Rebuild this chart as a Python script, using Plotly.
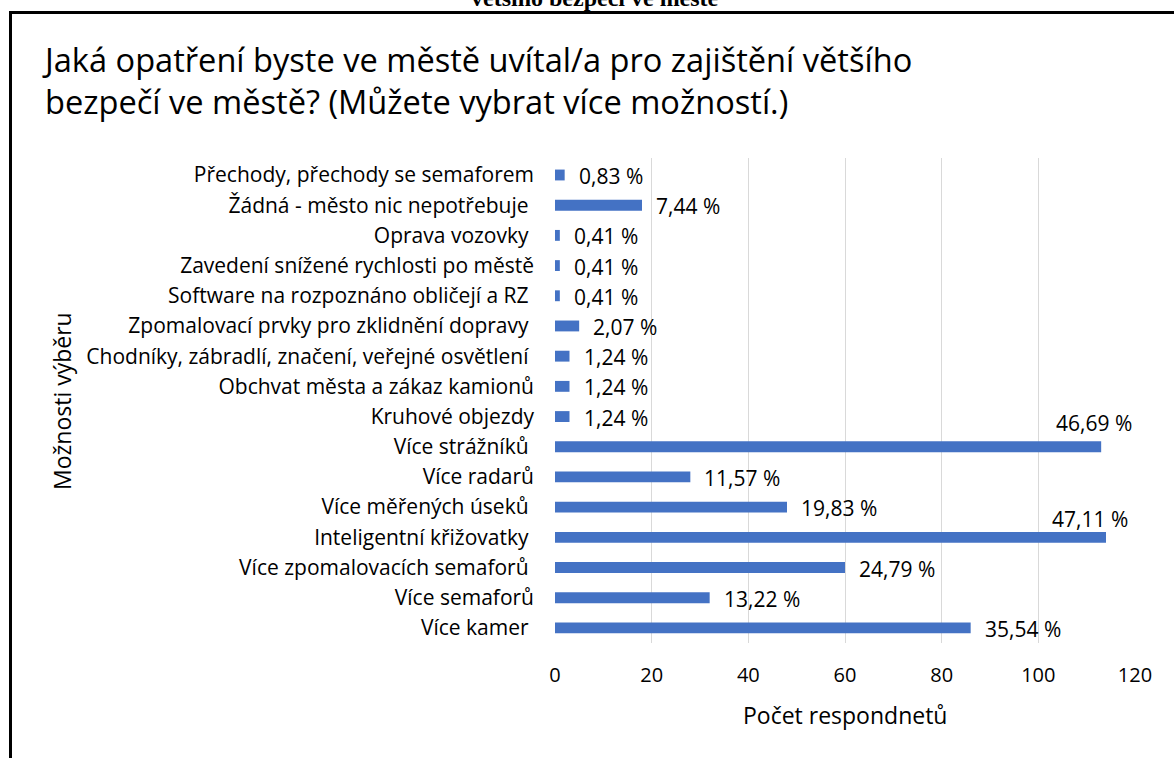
import plotly.graph_objects as go

# ---- data (top to bottom as shown) ----
categories = [
    "Přechody, přechody se semaforem",
    "Žádná - město nic nepotřebuje\u00a0",
    "Oprava vozovky\u00a0",
    "Zavedení snížené rychlosti po městě",
    "Software na rozpoznáno obličejí a RZ\u00a0",
    "Zpomalovací prvky pro zklidnění dopravy\u00a0",
    "Chodníky, zábradlí, značení, veřejné osvětlení\u00a0",
    "Obchvat města a zákaz kamionů",
    "Kruhové objezdy",
    "Více strážníků\u00a0",
    "Více radarů",
    "Více měřených úseků\u00a0",
    "Inteligentní křižovatky\u00a0",
    "Více zpomalovacích semaforů\u00a0",
    "Více semaforů",
    "Více kamer\u00a0",
]
counts = [2, 18, 1, 1, 1, 5, 3, 3, 3, 113, 28, 48, 114, 60, 32, 86]
percent_labels = ["0,83 %", "7,44 %", "0,41 %", "0,41 %", "0,41 %", "2,07 %", "1,24 %",
                  "1,24 %", "1,24 %", "46,69 %", "11,57 %", "19,83 %", "47,11 %",
                  "24,79 %", "13,22 %", "35,54 %"]
x_ticks = [0, 20, 40, 60, 80, 100, 120]

title_text = ("Jaká opatření byste ve městě uvítal/a pro zajištění většího<br>"
              "bezpečí ve městě? (Můžete vybrat více možností.)")
x_title = "Počet respondnetů"
y_title = "Možnosti výběru"
caption_top = "většího bezpečí ve městě"

# ---- layout geometry (pixels) ----
W, H = 1174, 758
L, R, T, B = 555, 1135, 158, 643
PW, PH = R - L, B - T


def xp(px):
    return (px - L) / PW


def yp(py):
    return (B - py) / PH


FONT = "Open Sans"
BAR = "#4472C4"
TXT = "#000000"

fig = go.Figure()
fig.add_trace(go.Bar(
    x=counts, y=categories, orientation="h",
    marker=dict(color=BAR, line=dict(width=0)),
    width=0.36, hoverinfo="skip",
))

annotations = []
# data labels
above = {9: (33, 24), 12: (24, 18)}
for i, (c, cat, lab) in enumerate(zip(counts, categories, percent_labels)):
    if i in above:
        xs, ys = above[i]
        annotations.append(dict(x=c, y=cat, xref="x", yref="y", text=lab, showarrow=False,
                                xanchor="right", yanchor="middle", xshift=xs, yshift=ys,
                                font=dict(family=FONT, size=21, color=TXT)))
    else:
        annotations.append(dict(x=c, y=cat, xref="x", yref="y", text=lab, showarrow=False,
                                xanchor="left", yanchor="middle", xshift=12, yshift=-1,
                                font=dict(family=FONT, size=21, color=TXT)))

# axis titles
annotations.append(dict(x=xp(845), y=yp(715), xref="paper", yref="paper", text=x_title,
                        showarrow=False, xanchor="center", yanchor="middle",
                        font=dict(family=FONT, size=23, color=TXT)))
annotations.append(dict(x=xp(62), y=yp(401), xref="paper", yref="paper", text=y_title,
                        showarrow=False, xanchor="center", yanchor="middle", textangle=-90,
                        font=dict(family=FONT, size=23, color=TXT)))
# cut-off caption at very top
annotations.append(dict(x=xp(595), y=yp(-2), xref="paper", yref="paper", text="<b>" + caption_top + "</b>",
                        showarrow=False, xanchor="center", yanchor="middle",
                        font=dict(family="Liberation Serif", size=24, color=TXT)))

shapes = [
    dict(type="line", xref="paper", yref="paper", x0=xp(9), x1=xp(1180), y0=yp(12.5), y1=yp(12.5),
         line=dict(color="#000000", width=3)),
    dict(type="line", xref="paper", yref="paper", x0=xp(10.5), x1=xp(10.5), y0=yp(11), y1=yp(770),
         line=dict(color="#000000", width=3)),
]

fig.update_layout(
    width=W, height=H,
    margin=dict(l=L, r=W - R, t=T, b=H - B, pad=0),
    paper_bgcolor="white", plot_bgcolor="white",
    showlegend=False,
    title=dict(text=title_text, x=45 / W, xanchor="left", xref="container",
               y=1 - 72 / H, yanchor="top", yref="container",
               font=dict(family=FONT, size=32.6, color=TXT)),
    xaxis=dict(range=[0, 120], tickvals=x_ticks, showgrid=True, gridcolor="#D9D9D9", gridwidth=1,
               zeroline=False, showline=False, ticks="", ticklabelstandoff=18,
               tickfont=dict(family=FONT, size=20, color=TXT)),
    yaxis=dict(autorange="reversed", showgrid=False, zeroline=False, showline=False, ticks="",
               ticklabelstandoff=20, tickfont=dict(family=FONT, size=21, color=TXT)),
    annotations=annotations,
    shapes=shapes,
    bargap=0.6,
)

fig.write_html("out.html", config={"displayModeBar": False},
               post_script="document.body.style.margin='0';document.body.style.overflow='hidden';")
